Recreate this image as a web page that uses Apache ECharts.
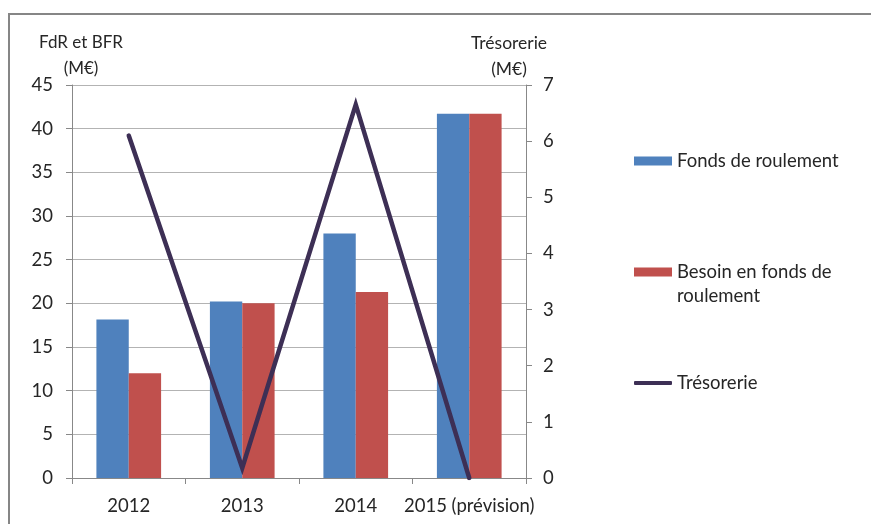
<!DOCTYPE html>
<html>
<head>
<meta charset="utf-8">
<script src="https://cdn.jsdelivr.net/npm/echarts@6/dist/echarts.min.js"></script>
<style>
html,body{margin:0;padding:0;background:#fff;}
#c{width:871px;height:525px;}
</style>
</head>
<body>
<div id="c"></div>
<script>
const categories = ['2012', '2013', '2014', '2015 (prévision)'];
const fondsDeRoulement = [18.15, 20.2, 28.0, 41.7];
const besoinFdR = [12.0, 20.0, 21.3, 41.7];
const tresorerie = [6.1, 0.18, 6.65, 0.0];
const seriesNames = ['Fonds de roulement', 'Besoin en fonds de roulement', 'Trésorerie'];
const leftAxisName = 'FdR et BFR\n(M€)';
const rightAxisName = 'Trésorerie\n(M€)';

const FONT = 'Lato';
const TXT = '#262626';
const FS = 18.5;
const chart = echarts.init(document.getElementById('c'), null, {renderer: 'canvas'});
const legendBase = {
  orient: 'vertical', left: 629, itemWidth: 38, itemHeight: 9,
  selectedMode: false,
  textStyle: {fontFamily: FONT, fontSize: FS, color: TXT, lineHeight: 24}
};
chart.setOption({
  animation: false,
  backgroundColor: '#fff',
  textStyle: {fontFamily: FONT},
  graphic: [{
    type: 'polyline', silent: true,
    shape: {points: [[9, 524], [9, 14], [871, 14]]},
    style: {stroke: '#868686', lineWidth: 2, fill: null}
  }],
  legend: [
    Object.assign({}, legendBase, {top: 144, data: [{name: seriesNames[0], icon: 'rect'}]}),
    Object.assign({}, legendBase, {top: 231, data: [{name: seriesNames[1], icon: 'rect'}],
      formatter: () => '\nBesoin en fonds de\nroulement'}),
    Object.assign({}, legendBase, {top: 366, itemHeight: 4,
      data: [{name: seriesNames[2], icon: 'roundRect'}]})
  ],
  grid: {left: 72, right: 345, top: 85, bottom: 47, containLabel: false},
  xAxis: {
    type: 'category', data: categories, boundaryGap: true,
    axisLine: {lineStyle: {color: '#888', width: 1}},
    axisTick: {show: true, alignWithLabel: false, length: 6, lineStyle: {color: '#888'}},
    axisLabel: {fontFamily: FONT, fontSize: FS, color: TXT, margin: 19, interval: 0}
  },
  yAxis: [{
    type: 'value', min: 0, max: 45, interval: 5, position: 'left',
    name: leftAxisName, nameLocation: 'end', nameGap: 3, nameMoveOverlap: false,
    nameTextStyle: {fontFamily: FONT, fontSize: 17, color: TXT, align: 'center', verticalAlign: 'bottom', lineHeight: 26, padding: [0, 0, 0, 18]},
    axisLine: {show: true, lineStyle: {color: '#888'}},
    axisTick: {show: true, length: 6, lineStyle: {color: '#888'}},
    axisLabel: {fontFamily: FONT, fontSize: FS, color: TXT, margin: 19},
    splitLine: {show: true, lineStyle: {color: '#b3b3b3', width: 1}}
  }, {
    type: 'value', min: 0, max: 7, interval: 1, position: 'right',
    name: rightAxisName, nameLocation: 'end', nameGap: 3, nameMoveOverlap: false,
    nameTextStyle: {fontFamily: FONT, fontSize: 17.5, color: TXT, align: 'center', verticalAlign: 'bottom', lineHeight: 26, padding: [0, 34, 0, 0]},
    axisLine: {show: true, lineStyle: {color: '#888'}},
    axisTick: {show: true, length: 6, lineStyle: {color: '#888'}},
    axisLabel: {fontFamily: FONT, fontSize: FS, color: TXT, margin: 17},
    splitLine: {show: false}
  }],
  series: [{
    name: seriesNames[0], type: 'bar', yAxisIndex: 0, data: fondsDeRoulement,
    barGap: '0%', barCategoryGap: '43%',
    itemStyle: {color: '#4f81bd'}
  }, {
    name: seriesNames[1], type: 'bar', yAxisIndex: 0, data: besoinFdR,
    barGap: '0%', barCategoryGap: '43%',
    itemStyle: {color: '#c0504d'}
  }, {
    name: seriesNames[2], type: 'line', yAxisIndex: 1, data: tresorerie,
    symbol: 'none', z: 5,
    lineStyle: {color: '#3d2f55', width: 4.5, cap: 'round', join: 'miter'},
    itemStyle: {color: '#3d2f55'}
  }]
});
</script>
</body>
</html>
